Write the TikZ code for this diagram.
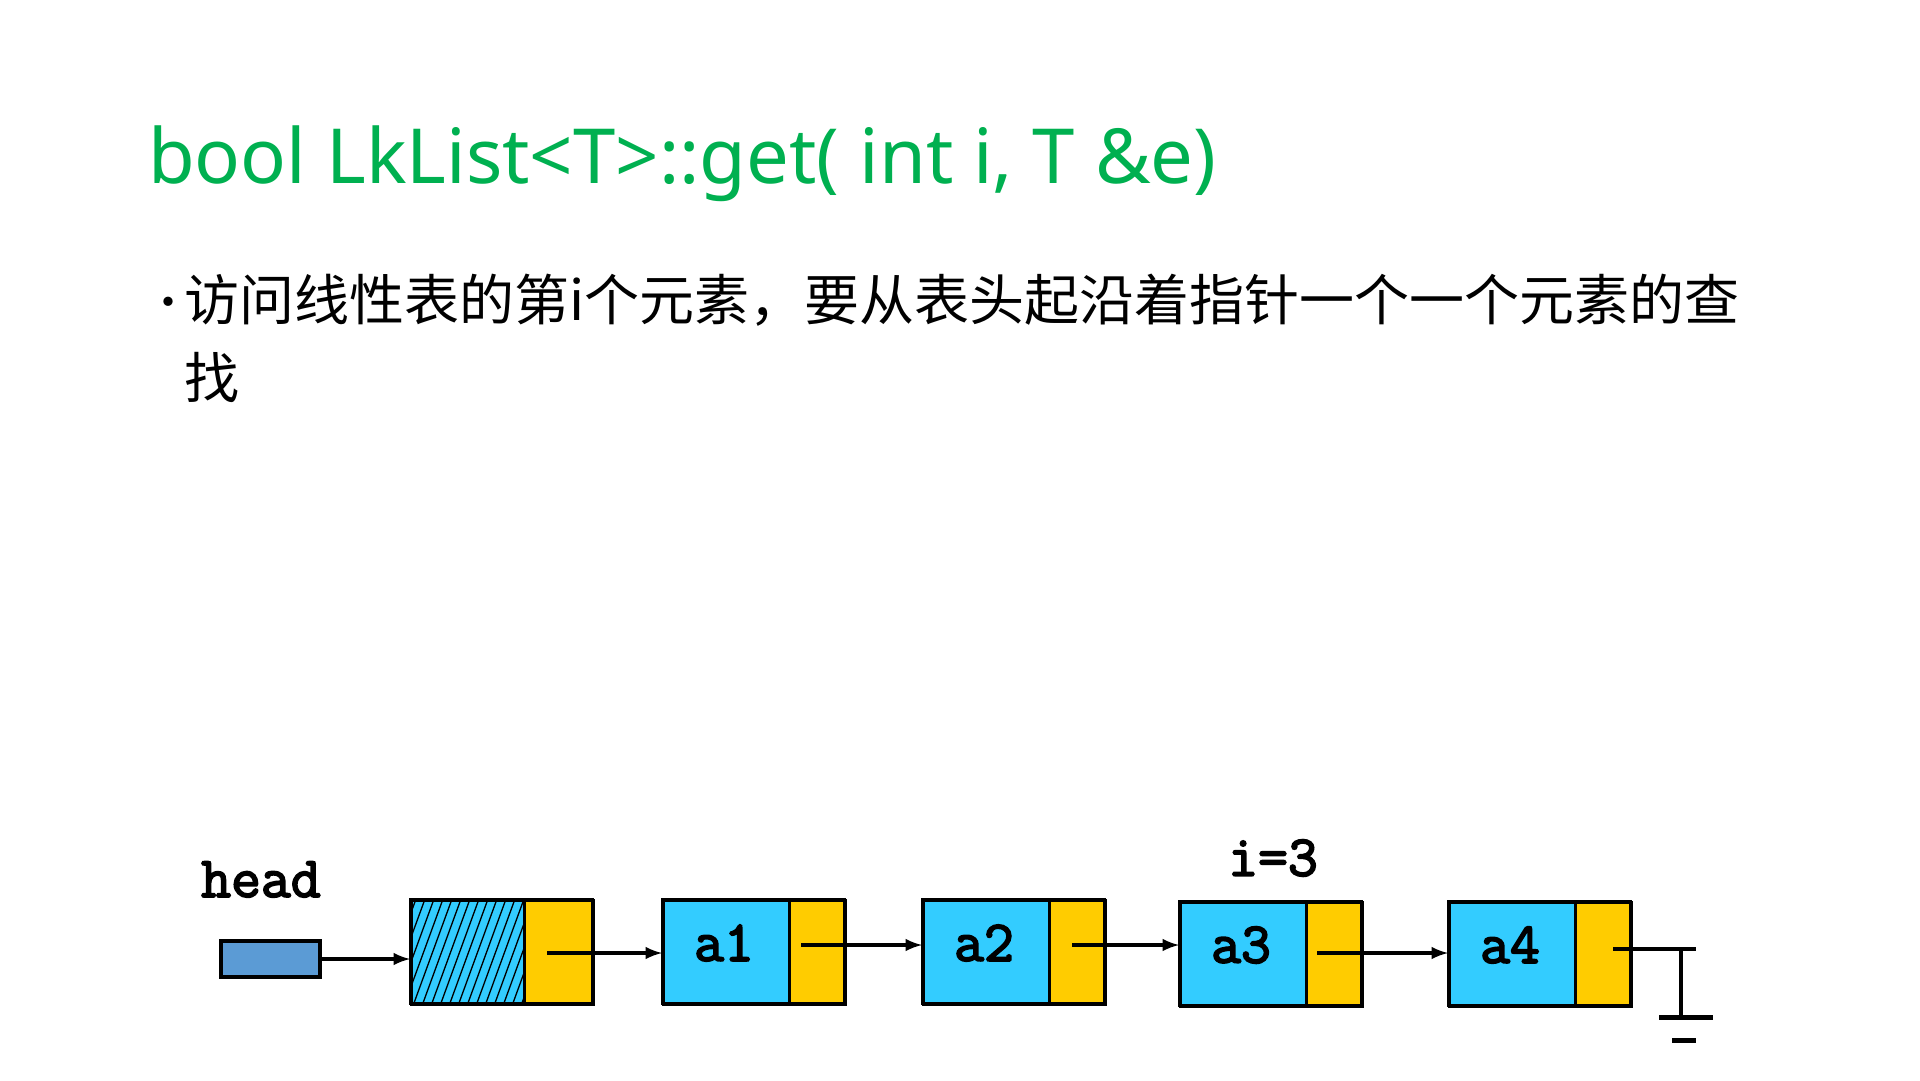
\documentclass[tikz,border=0pt]{standalone}
\usepackage{fontspec}
\setmainfont{Noto Sans}
\newfontfamily\cour[AutoFakeBold=3]{Latin Modern Mono}
\newfontfamily\cjk{Noto Sans CJK SC}
\definecolor{ttl}{RGB}{0,176,80}
\definecolor{cellblue}{RGB}{51,204,255}
\definecolor{cellyel}{RGB}{255,204,0}
\definecolor{headblue}{RGB}{91,155,213}
\begin{document}
\begin{tikzpicture}[x=1pt,y=-1pt,
  cell/.style={draw=black,line width=2.5pt,inner sep=0pt,anchor=north west},
  lbl/.style={font=\cour\bfseries\fontsize{58}{58}\selectfont,inner sep=0pt},
  arr/.style={-latex,line width=4.5pt}]
\useasboundingbox (0,0) rectangle (1920,1080);
\node[anchor=base west,text=ttl,font=\fontsize{76}{76}\selectfont,inner sep=0pt] (title) at (148,183) {bool LkList<T>::get( int i, T \&e)};
\node[anchor=base west,font=\cjk\fontsize{44}{44}\selectfont,inner sep=0pt] (bul) at (146,318) {•};
\node[anchor=base west,font=\cjk\fontsize{55}{55}\selectfont,inner sep=0pt] (l1) at (184,320) {访问线性表的第i个元素，要从表头起沿着指针一个一个元素的查};
\node[anchor=base west,font=\cjk\fontsize{55}{55}\selectfont,inner sep=0pt] (l2) at (184,398) {找};
% head
\node[lbl,anchor=base west] (hl) at (201,897) {head};
\node[cell,fill=headblue,line width=4pt,minimum width=99pt,minimum height=36pt] (hb) at (219,939) {};
% header node
\node[cell,fill=cellblue,minimum width=113pt,minimum height=104pt] (h0) at (410,899) {};
\begin{scope}
\clip (410,899) rectangle (523,1003);
\foreach \s in {360,369,...,530}{\draw[line width=1.3pt] (\s,1003) -- (\s+38,899);}
\end{scope}
\node[cell,fill=cellyel,minimum width=69pt,minimum height=104pt] (h0p) at (523,899) {};
\draw[line width=3pt] (410,899) rectangle (592,1003);
% data nodes
\foreach \n/\x/\y in {1/662/899,2/922/899,3/1179/901,4/1448/901}{
  \node[cell,fill=cellblue,minimum width=126pt,minimum height=104pt] (d\n) at (\x,\y) {};
  \node[cell,fill=cellyel,minimum width=56pt,minimum height=104pt] (p\n) at (\x+126,\y) {};
  \draw[line width=0.8pt] (\x+126,\y) -- ++(0,104);
  \draw[line width=3pt] (\x,\y) rectangle ++(182,104);
  \node[lbl] at (\x+62,\y+44) {a\n};
}
\node[lbl] (ilab) at (1273,858) {i=3};
% arrows
\draw[arr] (hb.east) -- (h0.west |- hb.east);
\draw[arr] (547,953) -- (d1.west |- 0,953);
\draw[arr] (801,945) -- (d2.west |- 0,945);
\draw[arr] (1072,945) -- (d3.west |- 0,945);
\draw[arr] (1317,953) -- (d4.west |- 0,953);
% ground
\coordinate (g) at (1681,949);
\draw[line width=4.5pt] (1613,949) -- (1696,949);
\draw[line width=3.5pt] (g) -- (1681,1017);
\draw[line width=5pt] (1659,1017) -- (1713,1017);
\draw[line width=5pt] (1672,1040) -- (1696,1040);
\end{tikzpicture}
\end{document}
